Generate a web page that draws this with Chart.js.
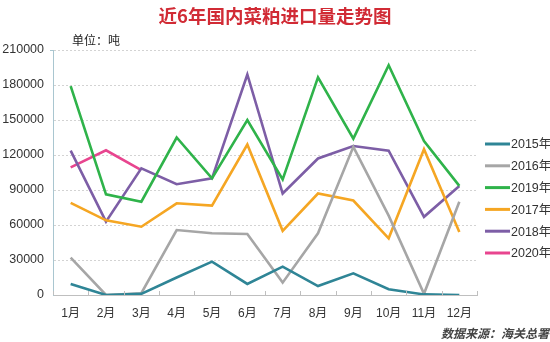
<!DOCTYPE html>
<html>
<head>
<meta charset="utf-8">
<script src="https://cdn.jsdelivr.net/npm/chart.js@4.4.0/dist/chart.umd.min.js"></script>
<style>
  html, body { margin: 0; padding: 0; background: #fff; }
  #wrap { position: relative; width: 550px; height: 342px; }
  #title { position: absolute; left: 0; width: 550px; top: 2px; text-align: center;
    font: bold 18.5px "Noto Sans CJK SC", serif; color: #d12b35; }
  #unit { position: absolute; left: 72px; top: 31px; font: 12px "Noto Sans CJK SC", sans-serif; color: #222; }
  #source { position: absolute; right: 1px; top: 324px; font: italic bold 12px "Noto Sans CJK SC", sans-serif; color: #444; }
</style>
</head>
<body>
<div id="wrap">
  <canvas id="c" width="550" height="342"></canvas>
  <div id="title">近6年国内菜粕进口量走势图</div>
  <div id="unit">单位：吨</div>
  <div id="source">数据来源：海关总署</div>
</div>
<script>
// Month labels and monthly rapeseed meal imports (tonnes)
const months = ['1月','2月','3月','4月','5月','6月','7月','8月','9月','10月','11月','12月'];
const yTicks = [0, 30000, 60000, 90000, 120000, 150000, 180000, 210000];

const y2015 = [9500, 0, 1000, 15000, 28600, 9500, 24300, 7700, 18600, 4900, 500, 0];
const y2016 = [32000, 0, 1500, 55700, 52900, 52300, 10600, 52900, 127000, 68000, 1000, 80000];
const y2019 = [179000, 86300, 80000, 135000, 100000, 150000, 99000, 186600, 134000, 197000, 132000, 93500];
const y2017 = [79000, 64000, 58500, 78600, 76600, 129000, 55000, 87000, 81000, 48600, 125000, 54000];
const y2018 = [123700, 62900, 108600, 95000, 100000, 189000, 87000, 117000, 127700, 123700, 67000, 93500];
const y2020 = [109400, 124000, 107000];

const seriesNames = ['2015年','2016年','2019年','2017年','2018年','2020年'];
const seriesColors = ['#2f8596','#a6a6a6','#2fb34a','#f5a623','#7d5ea6','#e8458f'];
const seriesData = [y2015, y2016, y2019, y2017, y2018, y2020];

const latin = '"Liberation Sans", "Noto Sans CJK SC", sans-serif';

// Vertical legend to the right of the plot area
const sideLegend = {
  id: 'sideLegend',
  afterDraw(chart) {
    const ctx = chart.ctx;
    const x0 = 485, x1 = 510;
    const yStart = 144, step = 21.8;
    ctx.save();
    ctx.font = '12.5px ' + latin;
    ctx.textBaseline = 'middle';
    chart.data.datasets.forEach((ds, i) => {
      const y = yStart + i * step;
      ctx.strokeStyle = ds.borderColor;
      ctx.lineWidth = 3;
      ctx.beginPath();
      ctx.moveTo(x0, y);
      ctx.lineTo(x1, y);
      ctx.stroke();
      ctx.fillStyle = '#333';
      ctx.fillText(ds.label, x1 + 1, y + 1);
    });
    ctx.restore();
  }
};

// Short tick marks between months pointing up from the x axis,
// plus the small corner mark at the top of the y axis
const innerTicks = {
  id: 'innerTicks',
  afterDatasetsDraw(chart) {
    const xs = chart.scales.x, ctx = chart.ctx;
    const { top, bottom, left } = chart.chartArea;
    const n = chart.data.labels.length;
    ctx.save();
    ctx.strokeStyle = '#bfbfbf';
    ctx.lineWidth = 1;
    ctx.beginPath();
    for (let i = 0; i <= n; i++) {
      const x = Math.round(xs.left + (xs.right - xs.left) * i / n) + 0.5;
      ctx.moveTo(x, bottom);
      ctx.lineTo(x, bottom - 4);
    }
    ctx.stroke();
    ctx.strokeStyle = '#a9c6d0';
    ctx.beginPath();
    ctx.moveTo(left - 3, Math.round(top) + 0.5);
    ctx.lineTo(left, Math.round(top) + 0.5);
    ctx.stroke();
    ctx.restore();
  }
};

new Chart(document.getElementById('c'), {
  type: 'line',
  data: {
    labels: months,
    datasets: seriesData.map((d, i) => ({
      label: seriesNames[i],
      data: d,
      borderColor: seriesColors[i],
      backgroundColor: seriesColors[i],
      borderWidth: 2.6,
      pointRadius: 0,
      tension: 0,
      fill: false
    }))
  },
  options: {
    responsive: false,
    animation: false,
    layout: { padding: { top: 50, right: 73, left: 0, bottom: 0 } },
    plugins: { legend: { display: false }, tooltip: { enabled: false } },
    scales: {
      x: {
        offset: true,
        grid: { offset: true, drawOnChartArea: false, drawTicks: false },
        border: { color: '#bfbfbf', width: 1 },
        ticks: { color: '#333', font: { family: latin, size: 12 }, padding: 11, maxRotation: 0 },
        afterFit(s) { s.height = 47; }
      },
      y: {
        min: 0, max: 210000,
        afterBuildTicks(s) { s.ticks = yTicks.map(v => ({ value: v })); },
        grid: { color: '#d3d3d3', drawTicks: false, lineWidth: 1 },
        border: { color: '#a9c6d0', width: 1, dash: [2, 2] },
        ticks: { color: '#333', font: { family: latin, size: 12.5 }, padding: 9,
                 callback: v => String(v) },
        afterFit(s) { s.width = 53; }
      }
    }
  },
  plugins: [sideLegend, innerTicks]
});
</script>
</body>
</html>
